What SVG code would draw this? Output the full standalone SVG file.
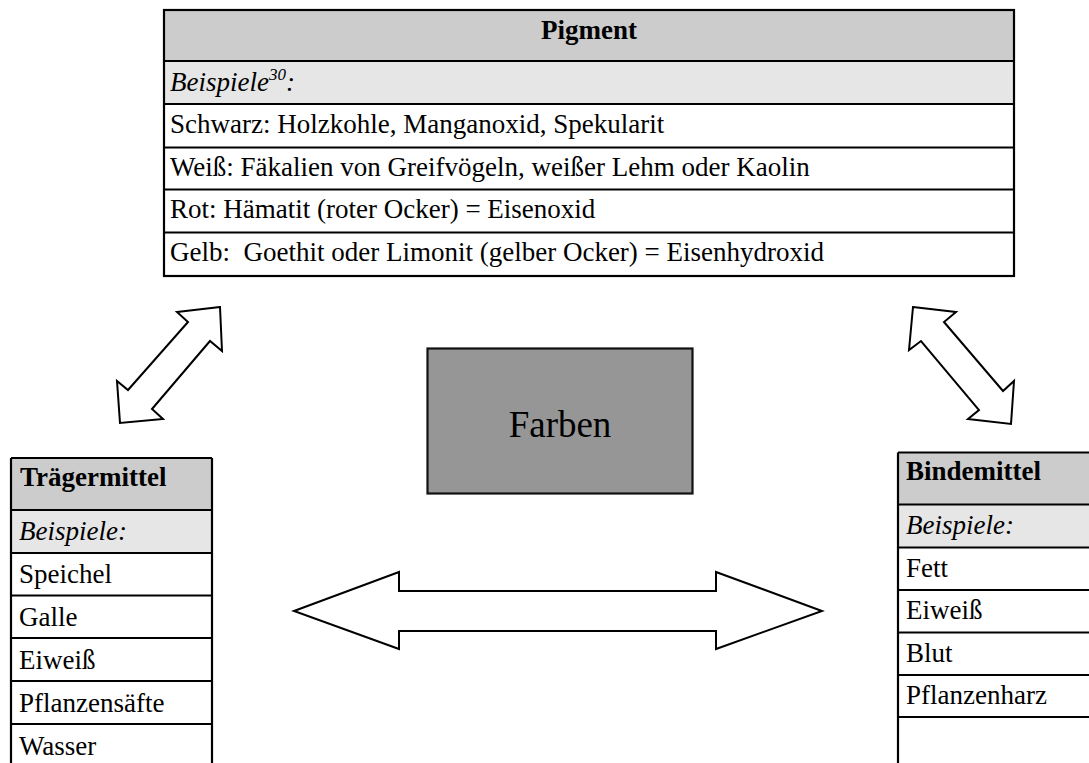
<svg xmlns="http://www.w3.org/2000/svg" width="1089" height="763" viewBox="0 0 1089 763">
<style>
  text { font-family: "Liberation Serif", "Times New Roman", serif; fill: #000; }
  .b { font-size: 27px; }
  .h { font-size: 27px; font-weight: bold; }
  .i { font-size: 27px; font-style: italic; }
  .head { fill: #cccccc; }
  .sub { fill: #e6e6e6; }
  .cell { fill: #ffffff; }
  .ln { stroke: #000; stroke-width: 2.2; fill: none; }
  .arrow { fill: #ffffff; stroke: #000; stroke-width: 2; stroke-linejoin: miter; }
</style>
<rect width="1089" height="763" fill="#ffffff"/>

<g id="pigment">
  <rect class="head" x="164" y="10" width="850" height="51"/>
  <rect class="sub" x="164" y="61" width="850" height="43"/>
  <rect class="cell" x="164" y="104" width="850" height="172"/>
  <rect class="ln" x="164" y="10" width="850" height="266"/>
  <path class="ln" d="M164 61H1014M164 104H1014M164 147.5H1014M164 189.5H1014M164 232.5H1014"/>
  <text class="h" x="589" y="39" text-anchor="middle">Pigment</text>
  <text class="i" x="170" y="91">Beispiele<tspan font-size="17" dy="-11">30</tspan><tspan dy="11">:</tspan></text>
  <text class="b" x="170" y="133">Schwarz: Holzkohle, Manganoxid, Spekularit</text>
  <text class="b" x="170" y="176">Weiß: Fäkalien von Greifvögeln, weißer Lehm oder Kaolin</text>
  <text class="b" x="170" y="218">Rot: Hämatit (roter Ocker) = Eisenoxid</text>
  <text class="b" x="170" y="261" xml:space="preserve">Gelb:  Goethit oder Limonit (gelber Ocker) = Eisenhydroxid</text>
</g>

<g id="farben">
  <rect x="427.5" y="348.5" width="265" height="145" fill="#969696" stroke="#111" stroke-width="2.2"/>
  <text x="560" y="437" font-size="37" text-anchor="middle">Farben</text>
</g>

<g id="traegermittel">
  <rect class="head" x="11" y="458" width="201" height="52"/>
  <rect class="sub" x="11" y="510" width="201" height="43"/>
  <rect class="cell" x="11" y="553" width="201" height="215"/>
  <path class="ln" d="M11 458H212M11 510H212M11 553H212M11 595.5H212M11 638H212M11 681H212M11 724H212M11 458V770M212 458V770"/>
  <text class="h" x="20" y="486">Trägermittel</text>
  <text class="i" x="19" y="540">Beispiele:</text>
  <text class="b" x="19" y="583">Speichel</text>
  <text class="b" x="19" y="626">Galle</text>
  <text class="b" x="19" y="669">Eiweiß</text>
  <text class="b" x="19" y="712">Pflanzensäfte</text>
  <text class="b" x="19" y="755">Wasser</text>
</g>

<g id="bindemittel">
  <rect class="head" x="898" y="452.5" width="200" height="52"/>
  <rect class="sub" x="898" y="504.5" width="200" height="43"/>
  <rect class="cell" x="898" y="547.5" width="200" height="220"/>
  <path class="ln" d="M898 452.5H1095M898 504.5H1095M898 547.5H1095M898 590H1095M898 632.5H1095M898 675H1095M898 717H1095M898 452.5V770"/>
  <text class="h" x="906" y="480">Bindemittel</text>
  <text class="i" x="906" y="534">Beispiele:</text>
  <text class="b" x="906" y="577">Fett</text>
  <text class="b" x="906" y="619">Eiweiß</text>
  <text class="b" x="906" y="662">Blut</text>
  <text class="b" x="906" y="704">Pflanzenharz</text>
</g>

<g id="connectors">
  <polygon class="arrow" points="220,307 177,312 188,322 128,390 117,381 120,423 163,419 152,409 210,341 222,351"/>
  <polygon class="arrow" points="913,307 956,312 944,322 1003,391 1014,381 1011,424 968,419 979,410 921,341 909,350"/>
  <polygon class="arrow" points="294,611 399,572 399,591 716,591 716,572 822,611 716,649 716,631 399,631 399,649"/>
</g>
</svg>
